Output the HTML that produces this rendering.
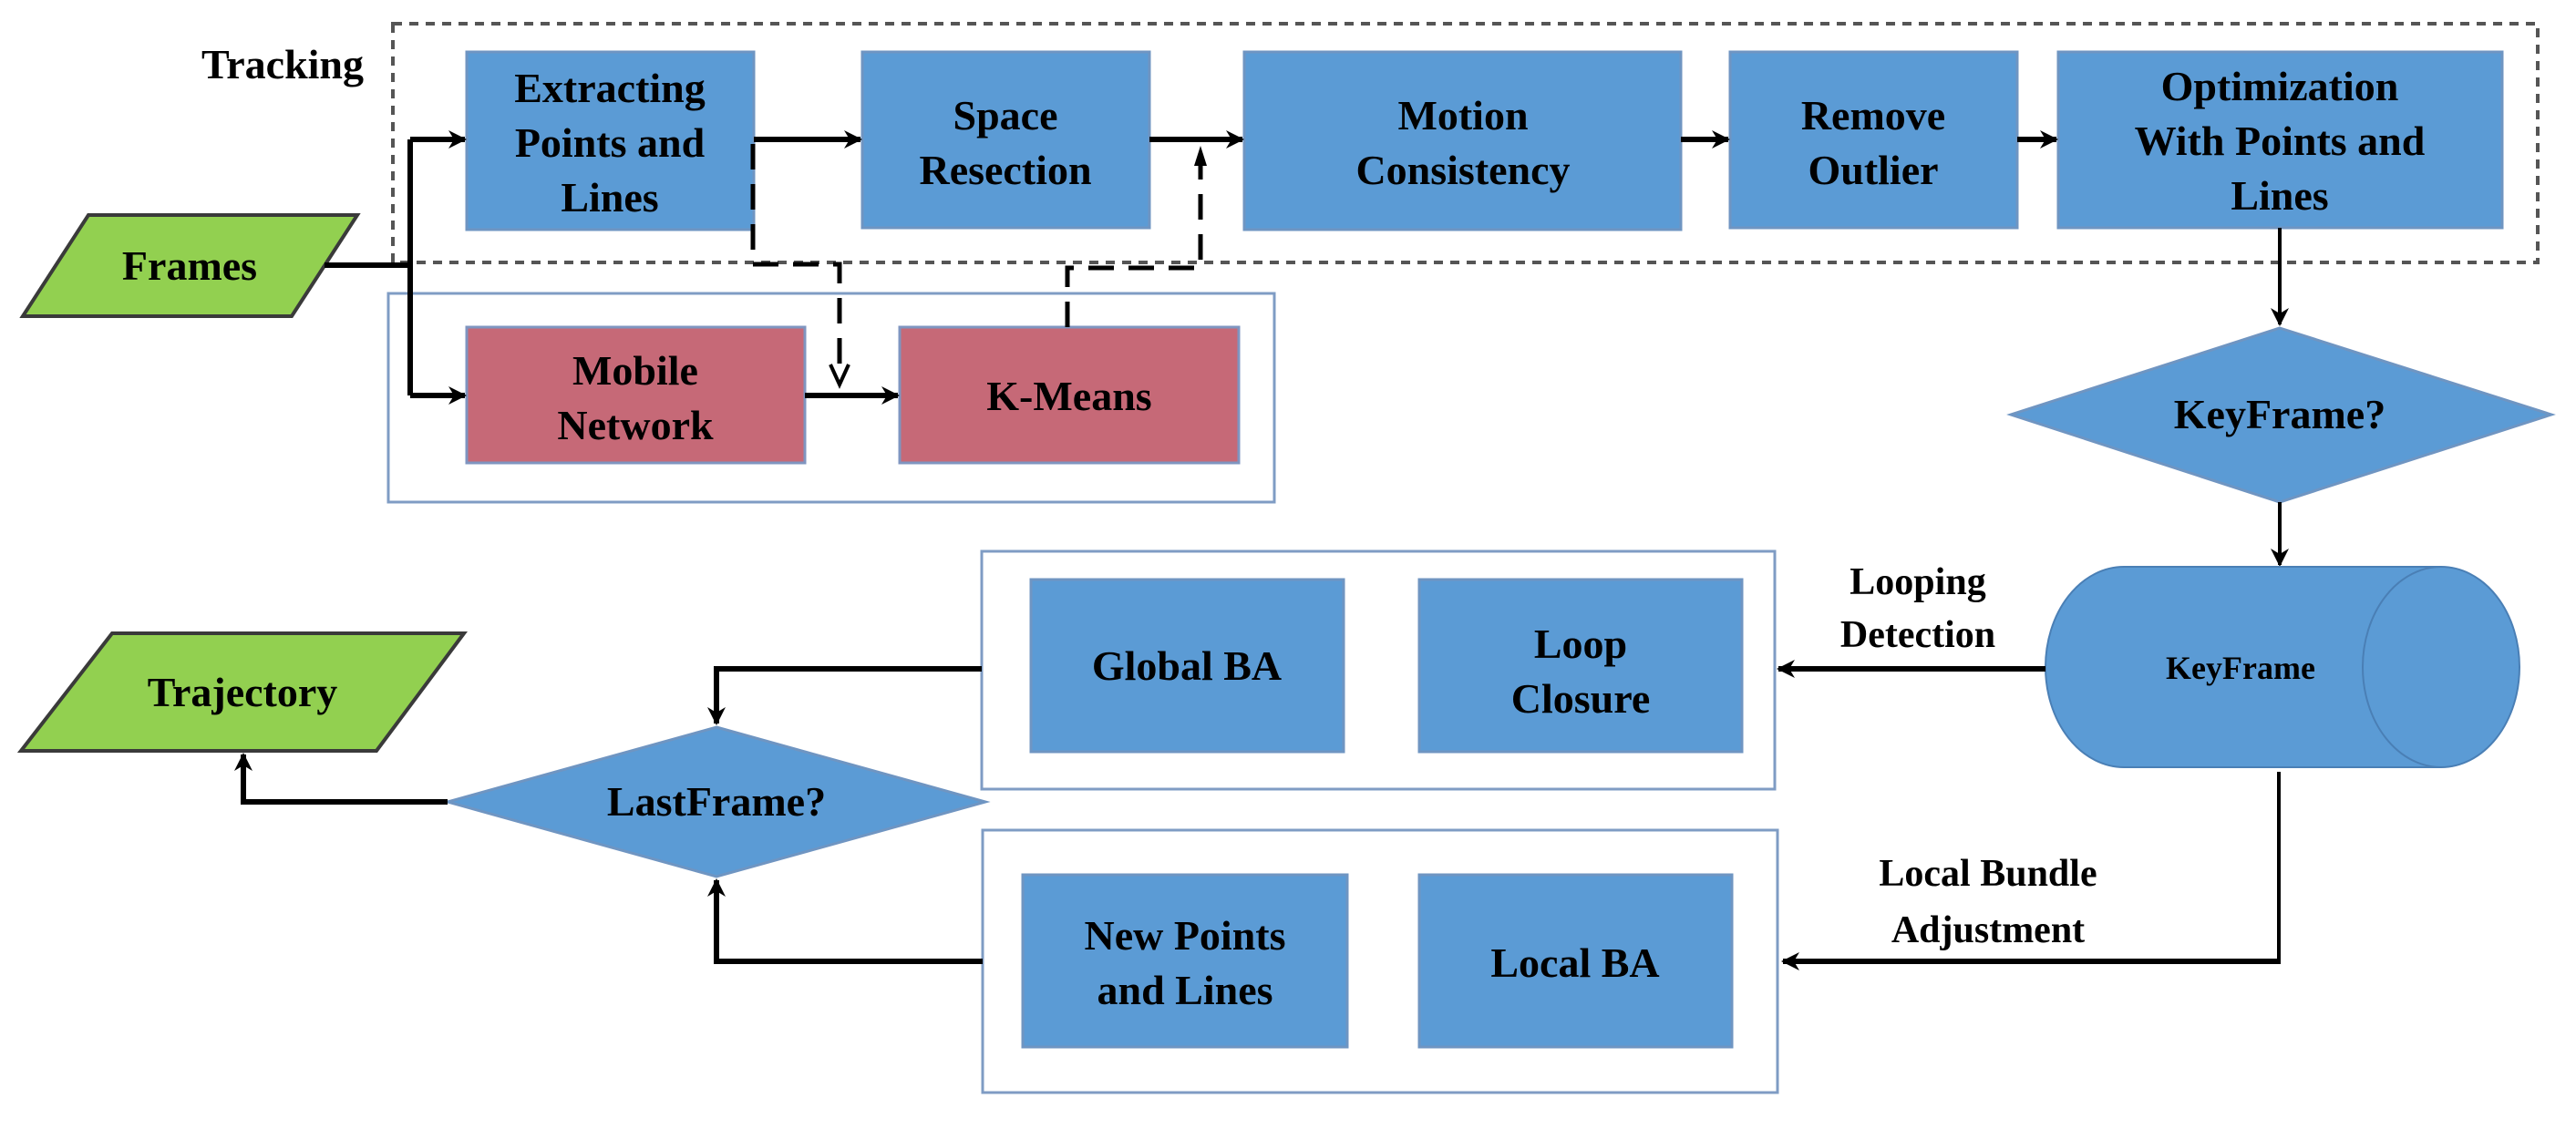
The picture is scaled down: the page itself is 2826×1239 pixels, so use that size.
<!DOCTYPE html>
<html><head><meta charset="utf-8"><style>
html,body{margin:0;padding:0;background:#fff;}
svg{display:block}
text{font-family:"Liberation Serif",serif;font-weight:bold;fill:#000;text-anchor:middle;}
.b{fill:#5B9BD5;stroke:#6F95C2;stroke-width:3}
.r{fill:#C66977;stroke:#7F95C0;stroke-width:3}
.g{fill:#92D050;stroke:#3a3a3a;stroke-width:4}
.ln{stroke:#000;stroke-width:6;fill:none}
.tn{stroke:#000;stroke-width:4;fill:none}
.ds{stroke:#000;stroke-width:5;fill:none;stroke-dasharray:28,16}
</style></head><body>
<svg width="2826" height="1239" viewBox="0 0 2826 1239" xmlns="http://www.w3.org/2000/svg">
<defs>
<marker id="a" markerWidth="10" markerHeight="10" refX="8" refY="5" orient="auto" markerUnits="userSpaceOnUse" viewBox="0 0 10 10">
<path d="M0,0 L10,5 L0,10 z" fill="#000"/></marker>
<marker id="A" viewBox="0 0 10 10" refX="9" refY="5" markerWidth="22" markerHeight="20" orient="auto" markerUnits="userSpaceOnUse">
<path d="M0,0 L10,5 L0,10 L3,5 z" fill="#000"/></marker>
</defs>
<!-- tracking dashed box -->
<rect x="431" y="26" width="2353" height="262" fill="none" stroke="#555" stroke-width="4" stroke-dasharray="10,8"/>
<text x="310" y="86" font-size="46">Tracking</text>
<!-- inner solid box -->
<rect x="426" y="322" width="972" height="229" fill="none" stroke="#7F9CC4" stroke-width="3"/>
<!-- boxes -->
<rect class="b" x="512" y="57" width="315" height="195"/>
<text font-size="46"><tspan x="669" y="112">Extracting</tspan><tspan x="669" y="172">Points and</tspan><tspan x="669" y="232">Lines</tspan></text>
<rect class="b" x="946" y="57" width="315" height="193"/>
<text font-size="46"><tspan x="1103" y="142">Space</tspan><tspan x="1103" y="202">Resection</tspan></text>
<rect class="b" x="1365" y="57" width="479" height="195"/>
<text font-size="46"><tspan x="1605" y="142">Motion</tspan><tspan x="1605" y="202">Consistency</tspan></text>
<rect class="b" x="1898" y="57" width="315" height="193"/>
<text font-size="46"><tspan x="2055" y="142">Remove</tspan><tspan x="2055" y="202">Outlier</tspan></text>
<rect class="b" x="2258" y="57" width="487" height="193"/>
<text font-size="46"><tspan x="2501" y="110">Optimization</tspan><tspan x="2501" y="170">With Points and</tspan><tspan x="2501" y="230">Lines</tspan></text>
<rect class="r" x="512" y="359" width="371" height="149"/>
<text font-size="46"><tspan x="697" y="422">Mobile</tspan><tspan x="697" y="482">Network</tspan></text>
<rect class="r" x="987" y="359" width="372" height="149"/>
<text font-size="46" x="1173" y="450">K-Means</text>
<!-- Frames -->
<polygon class="g" points="97,236 392,236 320,347 25,347"/>
<text font-size="46" x="208" y="307">Frames</text>
<!-- Frames connectors -->
<path class="ln" d="M356,291 L450,291"/>
<path class="ln" d="M450,153 L450,434"/>
<path class="ln" d="M450,153 L510,153" marker-end="url(#A)"/>
<path class="ln" d="M450,434 L510,434" marker-end="url(#A)"/>
<path class="ln" d="M827,153 L944,153" marker-end="url(#A)"/>
<path class="ln" d="M1261,153 L1363,153" marker-end="url(#A)"/>
<path class="ln" d="M1844,153 L1896,153" marker-end="url(#A)"/>
<path class="ln" d="M2213,153 L2256,153" marker-end="url(#A)"/>
<path class="ln" d="M883,434 L985,434" marker-end="url(#A)"/>
<!-- dashed -->
<path class="ds" d="M826,158 L826,290 L921,290 L921,412"/>
<path d="M911,400 L921,422 L931,400" stroke="#000" stroke-width="4" fill="none"/>
<path class="ds" d="M1171,359 L1171,294 L1317,294 L1317,170"/>
<path d="M1310,182 L1317,160 L1324,182 z" fill="#000"/>
<!-- KeyFrame? -->
<path class="tn" d="M2501,250 L2501,356" marker-end="url(#A)"/>
<polygon class="b" points="2501,360 2799,455 2501,551 2206,455" stroke="none"/>
<text font-size="46" x="2501" y="470">KeyFrame?</text>
<path class="tn" d="M2501,551 L2501,620" marker-end="url(#A)"/>
<!-- cylinder -->
<path d="M2330,622 L2678,622 A86,110 0 0 1 2678,842 L2330,842 A86,110 0 0 1 2330,622 z" fill="#5B9BD5" stroke="#4A7FB5" stroke-width="2"/>
<path d="M2678,622 A86,110 0 0 0 2678,842" fill="none" stroke="#4A7FB5" stroke-width="2"/>
<text font-size="36" x="2458" y="745">KeyFrame</text>
<!-- looping -->
<path class="ln" d="M2244,734 L1951,734" marker-end="url(#A)"/>
<text font-size="42"><tspan x="2104" y="652">Looping</tspan><tspan x="2104" y="710">Detection</tspan></text>
<rect x="1077" y="605" width="870" height="261" fill="none" stroke="#7F9CC4" stroke-width="3"/>
<rect class="b" x="1131" y="636" width="343" height="189"/>
<text font-size="46" x="1302" y="746">Global BA</text>
<rect class="b" x="1557" y="636" width="354" height="189"/>
<text font-size="46"><tspan x="1734" y="722">Loop</tspan><tspan x="1734" y="782">Closure</tspan></text>
<!-- local -->
<path class="tn" d="M2500,847 L2500,1055"/>
<path class="ln" d="M2502,1055 L1956,1055" marker-end="url(#A)"/>
<text font-size="42"><tspan x="2181" y="972">Local Bundle</tspan><tspan x="2181" y="1034">Adjustment</tspan></text>
<rect x="1078" y="911" width="872" height="288" fill="none" stroke="#7F9CC4" stroke-width="3"/>
<rect class="b" x="1122" y="960" width="356" height="189"/>
<text font-size="46"><tspan x="1300" y="1042">New Points</tspan><tspan x="1300" y="1102">and Lines</tspan></text>
<rect class="b" x="1557" y="960" width="343" height="189"/>
<text font-size="46" x="1728" y="1072">Local BA</text>
<!-- LastFrame -->
<path class="ln" d="M1077,734 L786,734 L786,794" marker-end="url(#A)"/>
<path class="ln" d="M1078,1055 L786,1055 L786,966" marker-end="url(#A)"/>
<polygon class="b" points="786,798 1081,880 786,962 491,880" stroke="none"/>
<text font-size="46" x="786" y="895">LastFrame?</text>
<path class="ln" d="M491,880 L267,880 L267,828" marker-end="url(#A)"/>
<polygon class="g" points="123,695 509,695 413,824 23,824"/>
<text font-size="46" x="266" y="775">Trajectory</text>
</svg>
</body></html>
